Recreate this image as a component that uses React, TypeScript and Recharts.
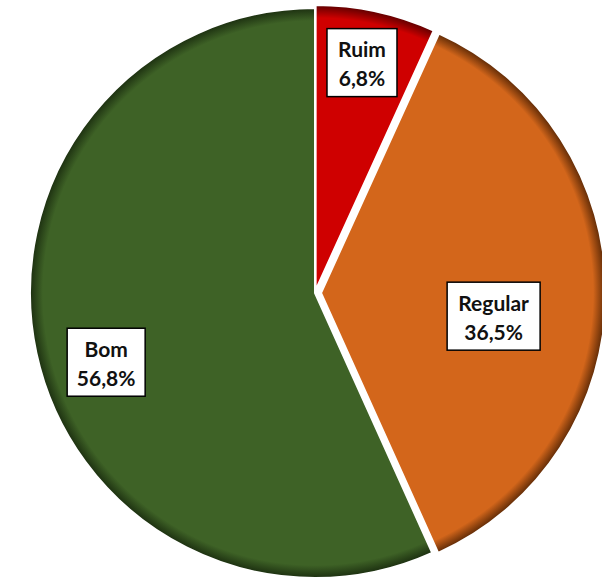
import React from 'react';
import { PieChart, Pie, Cell } from 'recharts';

const categories = ['Ruim', 'Regular', 'Bom'];
const values = [6.8, 36.5, 56.8];
const valueLabels = ['6,8%', '36,5%', '56,8%'];

const COLORS = ['#CF0000', '#D3661B', '#3E6226'];
const DARK = ['#5e0000', '#5e2a06', '#1c2f10'];
const EXPLODE = [3, 6, 0];
const LABEL_POS = [
  { r: 0.825, da: 0.7, w: 70 },
  { r: 0.632, da: -7.3, w: 93 },
  { r: 0.772, da: 6.2, w: 78 },
];

const W = 602;
const H = 579;
const CX = 315;
const CY = 293;
const R = 285;
const RAD = Math.PI / 180;

const data = categories.map((name, i) => ({ name, value: values[i], label: valueLabels[i] }));
const total = values.reduce((a, b) => a + b, 0);

// center offsets for exploded slices, along each slice's mid angle
const centers = values.map((v, i) => {
  const before = values.slice(0, i).reduce((a, b) => a + b, 0);
  const mid = 90 - ((before + v / 2) / total) * 360;
  return {
    cx: CX + Math.cos(mid * RAD) * EXPLODE[i],
    cy: CY - Math.sin(mid * RAD) * EXPLODE[i],
  };
});

const renderLabel = (props: any) => {
  const { midAngle, index } = props;
  const p = LABEL_POS[index];
  const a = (midAngle + p.da) * RAD;
  const x = CX + Math.cos(a) * R * p.r;
  const y = CY - Math.sin(a) * R * p.r;
  const h = 68;
  return (
    <g key={`lbl-${index}`}>
      <rect x={x - p.w / 2} y={y - h / 2} width={p.w} height={h} fill="#fff" stroke="#000" strokeWidth={1.5} />
      <text x={x} y={y - 14} textAnchor="middle" dominantBaseline="central" fontFamily="Lato, 'Liberation Sans', sans-serif" fontWeight={700} fontSize={21} fill="#111">
        {data[index].name}
      </text>
      <text x={x} y={y + 15} textAnchor="middle" dominantBaseline="central" fontFamily="Lato, 'Liberation Sans', sans-serif" fontWeight={700} fontSize={21} fill="#111">
        {data[index].label}
      </text>
    </g>
  );
};

const order = [2, 1, 0];

export default function App() {
  return (
    <div style={{ position: 'absolute', left: 0, top: 0, width: W, height: H, background: '#fff' }}>
      <PieChart width={W} height={H} margin={{ top: 0, right: 0, bottom: 0, left: 0 }}>
        <defs>
          {values.map((_, i) => (
            <radialGradient key={i} id={`g${i}`} gradientUnits="userSpaceOnUse" cx={centers[i].cx} cy={centers[i].cy} r={R}>
              <stop offset="0" stopColor={COLORS[i]} />
              <stop offset="0.955" stopColor={COLORS[i]} />
              <stop offset="1" stopColor={DARK[i]} />
            </radialGradient>
          ))}
        </defs>
        {order.map((i, k) => (
          <Pie
            key={i}
            data={data}
            dataKey="value"
            nameKey="name"
            cx={centers[i].cx}
            cy={centers[i].cy}
            outerRadius={R}
            innerRadius={0}
            startAngle={90}
            endAngle={-270}
            isAnimationActive={false}
            labelLine={false}
            label={k === order.length - 1 ? renderLabel : false}
          >
            {data.map((_, j) => (
              <Cell
                key={j}
                fill={j === i ? `url(#g${i})` : 'none'}
                stroke={j === i ? '#fff' : 'none'}
                strokeWidth={j === i ? 2 : 0}
              />
            ))}
          </Pie>
        ))}
      </PieChart>
    </div>
  );
}
